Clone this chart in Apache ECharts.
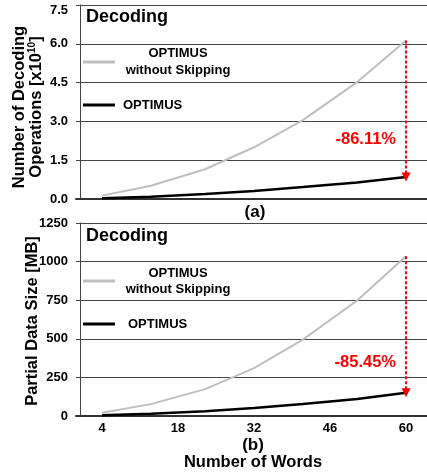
<!DOCTYPE html>
<html>
<head>
<meta charset="utf-8">
<script src="https://cdn.jsdelivr.net/npm/echarts@6/dist/echarts.min.js"></script>
<style>
html,body{margin:0;padding:0;background:#fff;}
#c{width:427px;height:474px;}
</style>
</head>
<body>
<div id="c"></div>
<script>
// ---- data ----
var words = [4, 13, 23, 32, 41, 51, 60];
var xTickLabels = [4, 18, 32, 46, 60];
var opsNoSkip = [0.13, 0.51, 1.15, 2.0, 3.05, 4.52, 6.13];
var opsOptimus = [0.03, 0.09, 0.19, 0.31, 0.46, 0.64, 0.85];
var sizeNoSkip = [21, 77, 174, 310, 495, 748, 1034];
var sizeOptimus = [5, 15, 30, 52, 78, 110, 150];
var opsReduction = '-86.11%';
var sizeReduction = '-85.45%';

function pairs(xs, ys) { return xs.map(function (x, i) { return [x, ys[i]]; }); }

var FONT = '"Liberation Sans", Arial, sans-serif';
var GRAY = '#bfbfbf';
var RED = '#ff0000';

function xAxisCfg(idx, showLabels) {
  return {
    type: 'value', gridIndex: idx, min: -0.79, max: 63.87,
    axisLine: { show: true, onZero: false, lineStyle: { color: '#333', width: 2 } },
    axisTick: { show: false },
    splitLine: { show: false },
    axisLabel: {
      show: showLabels, customValues: xTickLabels, margin: 6,
      color: '#000', fontWeight: 'bold', fontSize: 13, fontFamily: FONT
    }
  };
}
function yAxisCfg(idx, max, interval, digits, shiftTop) {
  return {
    type: 'value', gridIndex: idx, min: 0, max: max, interval: interval,
    axisLine: { show: true, lineStyle: { color: '#444', width: 1 } },
    axisTick: { show: false },
    splitLine: { show: true, lineStyle: { color: '#444', width: 1 } },
    axisLabel: {
      margin: 8, color: '#000', fontWeight: 'bold', fontSize: 13, fontFamily: FONT,
      formatter: function (v) {
        var s = v.toFixed(digits);
        return (shiftTop && v === max) ? '{top|' + s + '}' : s;
      },
      rich: { top: { padding: [10, 0, 0, 0], color: '#000', fontWeight: 'bold', fontSize: 13, fontFamily: FONT } }
    }
  };
}
function arrow(xv, yTop, yBot) {
  return {
    silent: true, symbol: ['none', 'triangle'], symbolSize: 9, symbolRotate: 180,
    label: { show: false },
    emphasis: { disabled: true },
    lineStyle: { color: RED, width: 2, type: [3, 2] },
    itemStyle: { color: RED },
    data: [[{ coord: [xv, yTop] }, { coord: [xv, yBot] }]]
  };
}

var chart = echarts.init(document.getElementById('c'), null, { renderer: 'canvas' });
var last = words.length - 1;
chart.setOption({
  animation: false,
  backgroundColor: '#fff',
  grid: [
    { left: 76, top: 5, right: 0, height: 194 },
    { left: 76, top: 223, right: 0, height: 193 }
  ],
  xAxis: [xAxisCfg(0, false), xAxisCfg(1, true)],
  yAxis: [yAxisCfg(0, 7.5, 1.5, 1, true), yAxisCfg(1, 1250, 250, 0, false)],
  series: [
    { type: 'line', xAxisIndex: 0, yAxisIndex: 0, data: pairs(words, opsNoSkip), symbol: 'none',
      lineStyle: { color: GRAY, width: 2 },
      markLine: arrow(words[last], opsNoSkip[last], opsOptimus[last]) },
    { type: 'line', xAxisIndex: 0, yAxisIndex: 0, data: pairs(words, opsOptimus), symbol: 'none',
      lineStyle: { color: '#000', width: 2.5 } },
    { type: 'line', xAxisIndex: 1, yAxisIndex: 1, data: pairs(words, sizeNoSkip), symbol: 'none',
      lineStyle: { color: GRAY, width: 2 },
      markLine: arrow(words[last], sizeNoSkip[last], sizeOptimus[last]) },
    { type: 'line', xAxisIndex: 1, yAxisIndex: 1, data: pairs(words, sizeOptimus), symbol: 'none',
      lineStyle: { color: '#000', width: 2.5 } }
  ],
  graphic: [
    // titles
    { type: 'text', left: 86, top: 8, style: { text: 'Decoding', font: 'bold 18px ' + FONT, fill: '#000' } },
    { type: 'text', left: 86, top: 227, style: { text: 'Decoding', font: 'bold 18px ' + FONT, fill: '#000' } },
    // legends top
    { type: 'line', shape: { x1: 83, y1: 62, x2: 115, y2: 62 }, style: { stroke: GRAY, lineWidth: 3 } },
    { type: 'text', x: 178, y: 53, style: { text: 'OPTIMUS', font: 'bold 13px ' + FONT, fill: '#000', align: 'center', verticalAlign: 'middle' } },
    { type: 'text', x: 178, y: 70, style: { text: 'without Skipping', font: 'bold 13px ' + FONT, fill: '#000', align: 'center', verticalAlign: 'middle' } },
    { type: 'line', shape: { x1: 83, y1: 105, x2: 115, y2: 105 }, style: { stroke: '#000', lineWidth: 3 } },
    { type: 'text', x: 123, y: 105, style: { text: 'OPTIMUS', font: 'bold 13px ' + FONT, fill: '#000', align: 'left', verticalAlign: 'middle' } },
    // legends bottom
    { type: 'line', shape: { x1: 83, y1: 281, x2: 115, y2: 281 }, style: { stroke: GRAY, lineWidth: 3 } },
    { type: 'text', x: 178, y: 273, style: { text: 'OPTIMUS', font: 'bold 13px ' + FONT, fill: '#000', align: 'center', verticalAlign: 'middle' } },
    { type: 'text', x: 178, y: 289, style: { text: 'without Skipping', font: 'bold 13px ' + FONT, fill: '#000', align: 'center', verticalAlign: 'middle' } },
    { type: 'line', shape: { x1: 83, y1: 324, x2: 115, y2: 324 }, style: { stroke: '#000', lineWidth: 3 } },
    { type: 'text', x: 128, y: 324, style: { text: 'OPTIMUS', font: 'bold 13px ' + FONT, fill: '#000', align: 'left', verticalAlign: 'middle' } },
    // reduction labels
    { type: 'text', x: 396, y: 139, style: { text: opsReduction, font: 'bold 16.5px ' + FONT, fill: RED, align: 'right', verticalAlign: 'middle' } },
    { type: 'text', x: 396, y: 362, style: { text: sizeReduction, font: 'bold 16.5px ' + FONT, fill: RED, align: 'right', verticalAlign: 'middle' } },
    // subfigure labels & x title
    { type: 'text', x: 255, y: 212, style: { text: '(a)', font: 'bold 17px ' + FONT, fill: '#000', align: 'center', verticalAlign: 'middle' } },
    { type: 'text', x: 253, y: 445, style: { text: '(b)', font: 'bold 17px ' + FONT, fill: '#000', align: 'center', verticalAlign: 'middle' } },
    { type: 'text', x: 253, y: 462, style: { text: 'Number of Words', font: 'bold 16.5px ' + FONT, fill: '#000', align: 'center', verticalAlign: 'middle' } },
    // y titles
    { type: 'text', x: 19, y: 107, rotation: Math.PI / 2, style: { text: 'Number of Decoding', font: 'bold 16.5px ' + FONT, fill: '#000', align: 'center', verticalAlign: 'middle' } },
    { type: 'text', x: 36, y: 107, rotation: Math.PI / 2, style: {
        text: '{t|Operations [x10}{s|10}{t|]}', align: 'center', verticalAlign: 'middle',
        rich: {
          t: { font: 'bold 16.5px ' + FONT, fill: '#000', lineHeight: 18, verticalAlign: 'bottom' },
          s: { font: 'bold 10px ' + FONT, fill: '#000', lineHeight: 18, verticalAlign: 'top' }
        } } },
    { type: 'text', x: 32, y: 321, rotation: Math.PI / 2, style: { text: 'Partial Data Size [MB]', font: 'bold 16.5px ' + FONT, fill: '#000', align: 'center', verticalAlign: 'middle' } }
  ]
});
</script>
</body>
</html>
